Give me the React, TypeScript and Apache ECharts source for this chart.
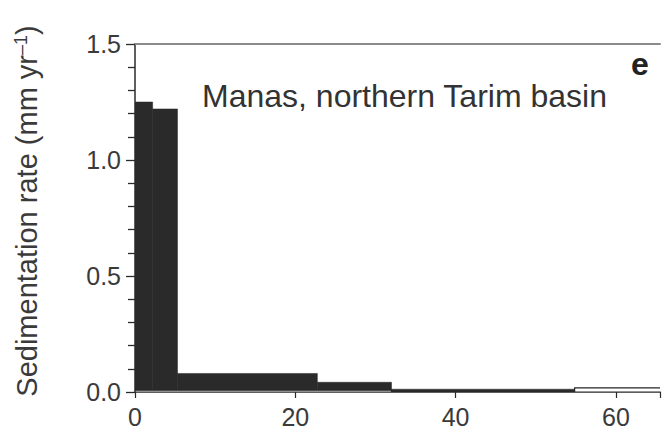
import React, { useEffect, useRef } from "react";
import * as echarts from "echarts";

// Filled (dark) histogram bins: age range in kyr, sedimentation rate mm/yr
const binStart = [0, 2.2, 5.3, 22.75, 32];
const binEnd = [2.2, 5.3, 22.75, 32, 54.85];
const binRate = [1.25, 1.22, 0.08, 0.042, 0.012];

// Open (white) bins drawn with an outline
const openStart = [0, 54.85];
const openEnd = [32, 67];
const openRate = [0.008, 0.018];

const xTicks = [0, 20, 40, 60];
const yTicks = [0, 0.5, 1.0, 1.5];

const panelTitle = "Manas, northern Tarim basin";
const panelLetter = "e";

const FONT = "'Liberation Sans', Arial, Helvetica, sans-serif";

export default function App() {
  const ref = useRef<HTMLDivElement>(null);

  useEffect(() => {
    if (!ref.current) return;
    const chart = echarts.init(ref.current, undefined, { renderer: "svg" });

    const filled = binStart.map((s, i) => [s, binEnd[i], binRate[i]]);
    const open = openStart.map((s, i) => [s, openEnd[i], openRate[i]]);

    const renderRect = (fill: string, lw: number) => (params: any, api: any) => {
      const x0 = api.value(0);
      const x1 = api.value(1);
      const v = api.value(2);
      const p0 = api.coord([x0, v]);
      const p1 = api.coord([x1, 0]);
      return {
        type: "rect",
        shape: { x: p0[0], y: p0[1], width: p1[0] - p0[0], height: p1[1] - p0[1] },
        style: { fill, stroke: "#262626", lineWidth: lw },
      };
    };

    chart.setOption({
      animation: false,
      backgroundColor: "#ffffff",
      grid: { left: 135, right: -3, top: 44, bottom: 35 },
      xAxis: [
        {
          type: "value",
          min: 0,
          max: 65.5,
          interval: 20,
          position: "bottom",
          splitLine: { show: false },
          axisLine: { show: true, lineStyle: { color: "#2a2a2a", width: 1.5 } },
          axisTick: { show: true, length: 6, lineStyle: { color: "#2a2a2a", width: 1.2 } },
          axisLabel: {
            fontSize: 25,
            color: "#3a3a3a",
            fontFamily: FONT,
            margin: 12,
            formatter: (v: number) => (xTicks.indexOf(v) >= 0 ? String(v) : ""),
          },
        },
        {
          type: "value",
          min: 0,
          max: 65.5,
          position: "top",
          splitLine: { show: false },
          axisLine: { show: true, lineStyle: { color: "#8a8a8a", width: 2 } },
          axisTick: { show: false },
          axisLabel: { show: false },
        },
      ],
      yAxis: {
        type: "value",
        min: 0,
        max: 1.5,
        interval: 0.5,
        splitLine: { show: false },
        axisLine: { show: true, lineStyle: { color: "#2a2a2a", width: 1.5 } },
        axisTick: { show: true, length: 9, lineStyle: { color: "#2a2a2a", width: 1.3 } },
        minorTick: { show: true, splitNumber: 5, length: 7, lineStyle: { color: "#2a2a2a", width: 1.3 } },
        axisLabel: {
          fontSize: 25,
          color: "#3a3a3a",
          fontFamily: FONT,
          margin: 14,
          formatter: (v: number) => (yTicks.indexOf(v) >= 0 ? v.toFixed(1) : ""),
        },
      },
      graphic: [
        {
          type: "text",
          left: 202,
          top: 80,
          style: { text: panelTitle, font: `32px ${FONT}`, fill: "#333333" },
        },
        {
          type: "text",
          left: 631,
          top: 48,
          style: { text: panelLetter, font: `bold 32px ${FONT}`, fill: "#222222" },
        },
        {
          type: "text",
          x: 27,
          y: 211,
          rotation: Math.PI / 2,
          style: {
            text: "Sedimentation rate (mm yr{sup|–1})",
            font: `29px ${FONT}`,
            fill: "#3a3a3a",
            align: "center",
            verticalAlign: "middle",
            rich: {
              sup: { fontSize: 18, fontFamily: FONT, verticalAlign: "top", fill: "#3a3a3a", padding: [0, 0, 12, 0] },
            },
          },
        },
      ],
      series: [
        {
          type: "custom",
          xAxisIndex: 0,
          renderItem: renderRect("#2a2a2a", 0.5),
          data: filled,
          clip: true,
          z: 2,
        },
        {
          type: "custom",
          xAxisIndex: 0,
          renderItem: renderRect("#ffffff", 1.2),
          data: open,
          clip: true,
          z: 3,
        },
      ],
    });

    return () => chart.dispose();
  }, []);

  return (
    <div
      ref={ref}
      style={{ position: "fixed", left: 0, top: 0, width: 663, height: 429 }}
    />
  );
}
